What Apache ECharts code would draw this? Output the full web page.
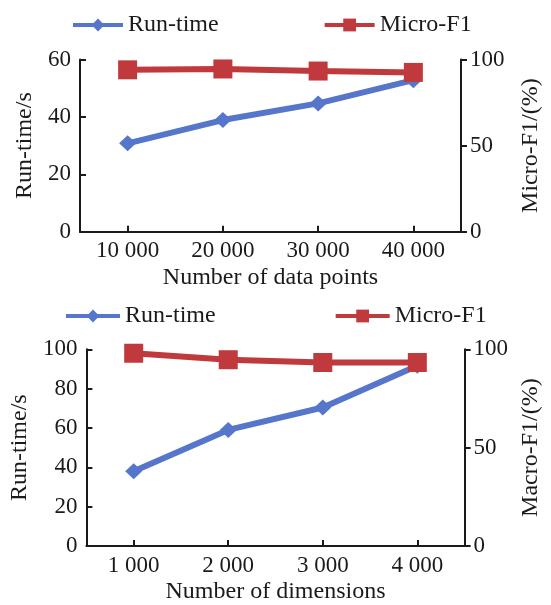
<!DOCTYPE html>
<html>
<head>
<meta charset="utf-8">
<script src="https://cdn.jsdelivr.net/npm/echarts@6/dist/echarts.min.js"></script>
<style>
  html, body { margin: 0; padding: 0; background: #fff; }
  #chart { width: 551px; height: 605px; }
</style>
</head>
<body>
<div id="chart"></div>
<script>
// top panel: data points
const pointsCategories = ["10 000", "20 000", "30 000", "40 000"];
const pointsRunTime = [30.8, 38.9, 44.7, 52.8];
const pointsMicroF1 = [94, 94.5, 93.3, 92.5];

// bottom panel: dimensions
const dimCategories = ["1 000", "2 000", "3 000", "4 000"];
const dimRunTime = [38, 59, 70.4, 91.6];
const dimMicroF1 = [98, 94.7, 93.3, 93.3];

const font = '"Liberation Serif", "Times New Roman", serif';
const blue = "#5676cb";
const red = "#c0393d";
const ink = "#1a1a1a";

const axisLine = { show: true, lineStyle: { color: ink, width: 2 } };

function xAxis(gridIndex, data, name) {
  return {
    type: "category",
    gridIndex: gridIndex,
    data: data,
    name: name,
    nameLocation: "middle",
    nameGap: 34,
    nameTextStyle: { fontFamily: font, fontSize: 24, color: ink },
    axisLine: axisLine,
    axisTick: { show: true, alignWithLabel: true, inside: true, length: 6, lineStyle: { color: ink, width: 2 } },
    axisLabel: { fontFamily: font, fontSize: 23, color: ink, margin: 8 },
  };
}

function yAxis(gridIndex, position, max, interval, name, nameGap) {
  return {
    type: "value",
    gridIndex: gridIndex,
    position: position,
    min: 0,
    max: max,
    interval: interval,
    name: name,
    nameLocation: "middle",
    nameRotate: 90,
    nameGap: nameGap,
    nameTextStyle: { fontFamily: font, fontSize: 24, color: ink },
    splitLine: { show: false },
    axisLine: axisLine,
    axisTick: { show: true, inside: position === "left", length: 6, lineStyle: { color: ink, width: 2 } },
    axisLabel: { fontFamily: font, fontSize: 23, color: ink, margin: 9 },
  };
}

function runSeries(xi, yi, data) {
  return {
    name: "Run-time",
    type: "line",
    xAxisIndex: xi,
    yAxisIndex: yi,
    data: data,
    symbol: "diamond",
    symbolSize: [17, 16],
    lineStyle: { color: blue, width: 6 },
    itemStyle: { color: blue },
    z: 2,
  };
}

function f1Series(xi, yi, data) {
  return {
    name: "Micro-F1",
    type: "line",
    xAxisIndex: xi,
    yAxisIndex: yi,
    data: data,
    symbol: "rect",
    symbolSize: 19,
    lineStyle: { color: red, width: 6 },
    itemStyle: { color: red },
    z: 3,
  };
}

const legendText = { fontFamily: font, fontSize: 24, color: ink };

const option = {
  animation: false,
  backgroundColor: "#fff",
  legend: [
    {
      data: ["Run-time", "Micro-F1"],
      left: 66, top: 8,
      itemWidth: 50, itemHeight: 16, itemGap: 104,
      lineStyle: { width: 4 },
      textStyle: legendText,
    },
    {
      data: ["Run-time", "Micro-F1"],
      left: 59, top: 299,
      itemWidth: 54, itemHeight: 16, itemGap: 118,
      lineStyle: { width: 4 },
      textStyle: legendText,
    },
  ],
  grid: [
    { left: 80, right: 80, top: 59.5, bottom: 373.3 },
    { left: 82, right: 75, top: 349.3, bottom: 56.7 },
  ],
  xAxis: [
    xAxis(0, pointsCategories, "Number of data points"),
    xAxis(1, dimCategories, "Number of dimensions"),
  ],
  yAxis: [
    yAxis(0, "left", 60, 20, "Run-time/s", 42),
    yAxis(0, "right", 100, 50, "Micro-F1/(%)", 58),
    yAxis(1, "left", 100, 20, "Run-time/s", 42),
    yAxis(1, "right", 100, 50, "Macro-F1/(%)", 53),
  ],
  series: [
    runSeries(0, 0, pointsRunTime),
    f1Series(0, 1, pointsMicroF1),
    runSeries(1, 2, dimRunTime),
    f1Series(1, 3, dimMicroF1),
  ],
};

const myChart = echarts.init(document.getElementById("chart"));
myChart.setOption(option);
</script>
</body>
</html>
